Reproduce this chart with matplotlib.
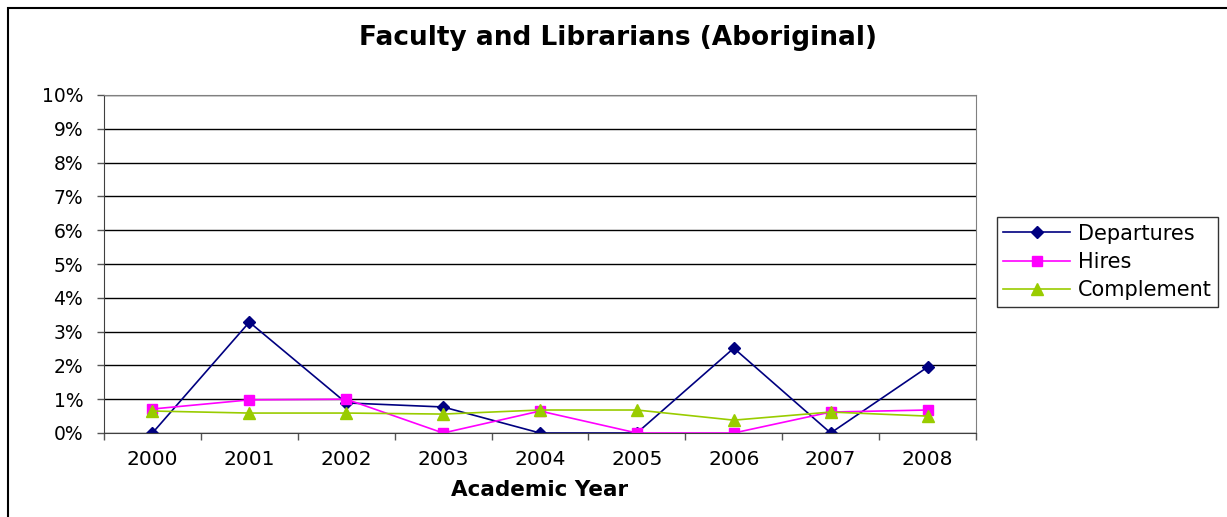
import numpy as np
import matplotlib.pyplot as plt
from matplotlib.patches import Rectangle

years = ["2000", "2001", "2002", "2003", "2004", "2005", "2006", "2007", "2008"]
departures = [0.0, 3.28, 0.89, 0.77, 0.0, 0.0, 2.51, 0.0, 1.95]
hires = [0.71, 0.98, 1.0, 0.0, 0.65, 0.0, 0.0, 0.62, 0.68]
complement = [0.65, 0.59, 0.59, 0.56, 0.68, 0.68, 0.38, 0.62, 0.50]

plt.rcParams['font.family'] = ['DejaVu Sans']

fig = plt.figure(figsize=(12.27, 5.17), dpi=100)
ax = fig.add_axes([104 / 1227, 1 - 433 / 517, (976 - 104) / 1227, (433 - 95) / 517])

# outer chart border
fig.patches.append(Rectangle((8 / 1227, -0.1), 1.2, 1 - 8 / 517 + 0.1, transform=fig.transFigure,
                             fill=False, edgecolor='black', linewidth=1.5))

x = np.arange(len(years))
ax.plot(x, departures, color='#000080', marker='D', markersize=6.5, linewidth=1.2, label='Departures')
ax.plot(x, hires, color='#ff00ff', marker='s', markersize=7, linewidth=1.2, label='Hires')
ax.plot(x, complement, color='#99cc00', marker='^', markersize=9, linewidth=1.2, label='Complement')

ax.set_xlim(-0.5, len(years) - 0.5)
ax.set_ylim(0, 10)
ax.set_yticks(np.arange(0, 11, 1))
ax.set_yticklabels([f"{v}%" for v in range(11)])
ax.set_xticks(x)
ax.set_xticklabels(years)
ax.set_xticks(np.arange(-0.5, len(years), 1), minor=True)
ax.tick_params(axis='x', which='major', length=0, pad=12, labelsize=14.5)
ax.tick_params(axis='x', which='minor', length=5, width=1, color='#555555', direction='out')
ax.tick_params(axis='y', length=5, width=1, color='#555555', direction='out', pad=10, labelsize=13.5)

ax.grid(axis='y', color='black', linewidth=1)
ax.set_axisbelow(True)
for s in ['top', 'right']:
    ax.spines[s].set_color('#808080')
ax.spines['left'].set_color('#404040')
ax.spines['bottom'].set_color('#404040')

fig.text(618 / 1227, 1 - 38 / 517, 'Faculty and Librarians (Aboriginal)', fontsize=19, fontweight='bold',
         ha='center', va='center')
fig.text(540 / 1227, 1 - 490 / 517, 'Academic Year', fontsize=15.5, fontweight='bold',
         ha='center', va='center')

leg = ax.legend(loc='center left', bbox_to_anchor=(997 / 1227, 1 - 262 / 517), bbox_transform=fig.transFigure,
                fontsize=15, frameon=True, fancybox=False, edgecolor='black', borderpad=0.3,
                handlelength=3.2, handletextpad=0.4, labelspacing=0.4, borderaxespad=0)
leg.get_frame().set_linewidth(1)

fig.savefig('out.png', dpi=100)
